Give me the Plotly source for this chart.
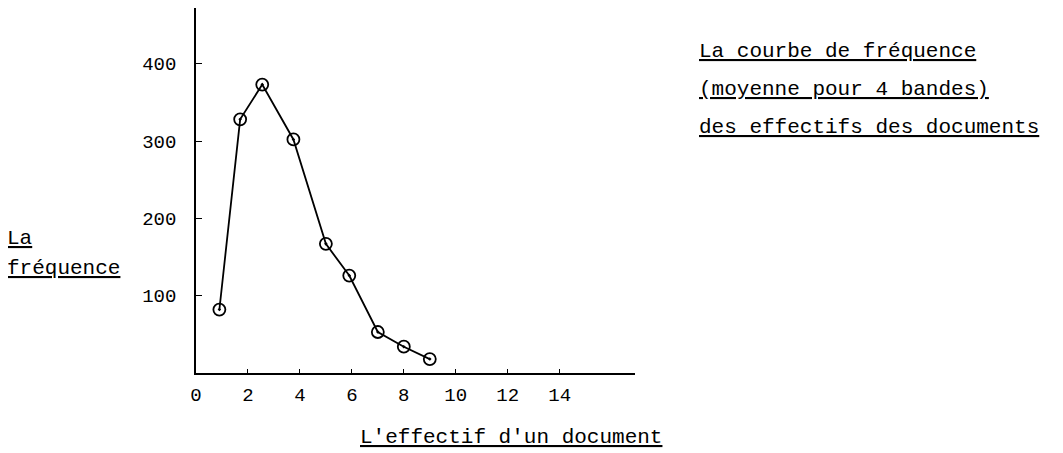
import plotly.graph_objects as go

# Data
effectif = [0.9, 1.7, 2.55, 3.75, 5.0, 5.9, 7.0, 8.0, 9.0]
frequence = [82, 328, 373, 302, 167, 126, 53, 34, 18]

x_ticks = [0, 2, 4, 6, 8, 10, 12, 14]
y_ticks = [100, 200, 300, 400]

title_lines = ["La courbe de fréquence",
               "(moyenne pour 4 bandes)",
               "des effectifs des documents"]
y_label_lines = ["La", "fréquence"]
x_label = "L'effectif d'un document"

FONT = "Liberation Mono"

fig = go.Figure()
fig.add_trace(go.Scatter(
    x=effectif, y=frequence, mode="lines+markers",
    line=dict(color="black", width=1.8),
    marker=dict(symbol="circle-open-dot", size=12, color="black",
                line=dict(color="black", width=1.8)),
    showlegend=False, hoverinfo="x+y"))

# page has an 8px body margin, so the figure starts at (8, 8) of the window
OFF = 8
W, H = 1063 - OFF, 453 - OFF
L, T = 196 - OFF, 8 - OFF
R = 1063 - 635
B = 453 - 373
pw, ph = W - L - R, H - T - B

def px(x):
    return (x - OFF - L) / pw

def py(y):
    return (H - B - (y - OFF)) / ph

annotations = []
for i, line in enumerate(title_lines):
    annotations.append(dict(x=px(697), y=py(52 + i * 37.6), xref="paper", yref="paper",
                            text="<u>" + line + "</u>", showarrow=False,
                            xanchor="left", yanchor="middle",
                            font=dict(family=FONT, size=21, color="black")))
for txt, yy in zip(y_label_lines, [238, 268]):
    annotations.append(dict(x=px(5), y=py(yy), xref="paper", yref="paper",
                            text="<u>" + txt + "</u>", showarrow=False,
                            xanchor="left", yanchor="middle",
                            font=dict(family=FONT, size=21, color="black")))
annotations.append(dict(x=px(358), y=py(437), xref="paper", yref="paper",
                        text="<u>" + x_label + "</u>", showarrow=False,
                        xanchor="left", yanchor="middle",
                        font=dict(family=FONT, size=21, color="black")))

fig.update_layout(
    width=W, height=H,
    margin=dict(l=L, r=R, t=T, b=B, pad=0),
    plot_bgcolor="white", paper_bgcolor="white",
    font=dict(family=FONT, size=19, color="black"),
    annotations=annotations,
    xaxis=dict(range=[0, 16.9], tickvals=x_ticks, ticktext=[str(v) for v in x_ticks],
               showgrid=False, zeroline=False, showline=True, linecolor="black",
               linewidth=1.5, ticks="inside", ticklen=4, tickcolor="black",
               ticklabelstandoff=3),
    yaxis=dict(range=[0, 472], tickvals=y_ticks, ticktext=[str(v) for v in y_ticks],
               showgrid=False, zeroline=False, showline=True, linecolor="black",
               linewidth=1.5, ticks="inside", ticklen=6, tickcolor="black",
               ticklabelstandoff=14),
)

fig.write_html("out.html")
